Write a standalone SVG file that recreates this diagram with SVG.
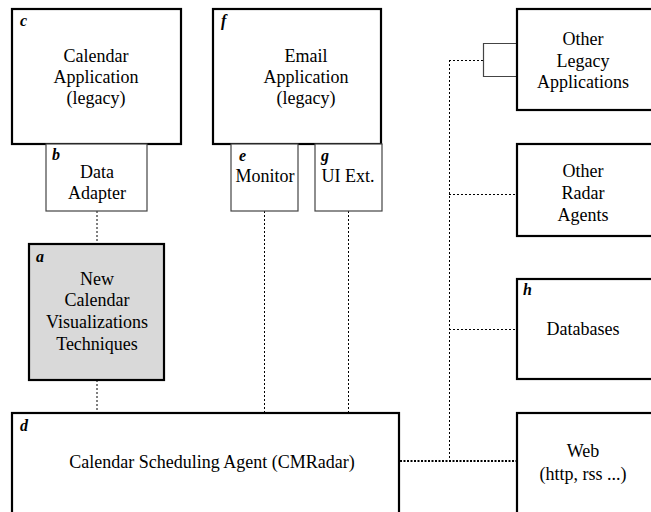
<svg xmlns="http://www.w3.org/2000/svg" width="651" height="512" viewBox="0 0 651 512">
<style>
.big{fill:#fff;stroke:#000;stroke-width:2.2}
.small{fill:#fff;stroke:#444;stroke-width:1.2}
.t{font-family:"Liberation Serif","Times New Roman",serif;font-size:18px;fill:#000;text-anchor:middle}
.l{font-family:"Liberation Serif","Times New Roman",serif;font-size:16px;font-weight:bold;font-style:italic;fill:#000}
.dot{stroke:#000;stroke-width:1;stroke-dasharray:2 2;fill:none}
.dotb{stroke:#000;stroke-width:2;stroke-dasharray:2 1.5;fill:none}
</style>
<rect width="651" height="512" fill="#fff"/>
<g id="connectors">
<line class="dot" x1="97" y1="211" x2="97" y2="244"/>
<line class="dot" x1="97" y1="380" x2="97" y2="413"/>
<line class="dot" x1="264.5" y1="211" x2="264.5" y2="413"/>
<line class="dot" x1="348.5" y1="211" x2="348.5" y2="413"/>
<line class="dot" x1="449.5" y1="60" x2="449.5" y2="461"/>
<line class="dot" x1="449" y1="60.5" x2="483" y2="60.5"/>
<line class="dot" x1="449" y1="194.5" x2="517" y2="194.5"/>
<line class="dot" x1="449" y1="329.5" x2="517" y2="329.5"/>
<line class="dotb" x1="400" y1="461" x2="517" y2="461"/>
<polyline points="517,43.5 483.5,43.5 483.5,76.5 517,76.5" fill="none" stroke="#444" stroke-width="1.2"/>
</g>
<g id="node-c">
<rect class="big" x="12" y="9" width="169" height="135"/>
<text class="l" x="20" y="26">c</text>
<text class="t" x="96" y="62">Calendar</text>
<text class="t" x="96" y="83">Application</text>
<text class="t" x="96" y="104">(legacy)</text>
</g>
<g id="node-b">
<rect class="small" x="46" y="144" width="101" height="67"/>
<text class="l" x="52" y="160">b</text>
<text class="t" x="97" y="178">Data</text>
<text class="t" x="97" y="199">Adapter</text>
</g>
<g id="node-f">
<rect class="big" x="213" y="9" width="168" height="135"/>
<text class="l" x="221" y="26">f</text>
<text class="t" x="306" y="62">Email</text>
<text class="t" x="306" y="83">Application</text>
<text class="t" x="306" y="104">(legacy)</text>
</g>
<g id="node-e">
<rect class="small" x="231" y="144" width="67" height="67"/>
<text class="l" x="239" y="161">e</text>
<text class="t" x="265" y="182">Monitor</text>
</g>
<g id="node-g">
<rect class="small" x="315" y="144" width="67" height="67"/>
<text class="l" x="321" y="161">g</text>
<text class="t" x="348" y="182">UI Ext.</text>
</g>
<g id="node-a">
<rect x="29" y="244" width="135" height="136" fill="#d9d9d9" stroke="#000" stroke-width="2.2"/>
<text class="l" x="36" y="262">a</text>
<text class="t" x="97" y="285">New</text>
<text class="t" x="97" y="306">Calendar</text>
<text class="t" x="97" y="328">Visualizations</text>
<text class="t" x="97" y="350">Techniques</text>
</g>
<g id="node-d">
<rect class="big" x="12" y="413" width="387" height="110"/>
<text class="l" x="20" y="431">d</text>
<text class="t" x="212" y="468">Calendar Scheduling Agent (CMRadar)</text>
</g>
<g id="node-legacy">
<rect class="big" x="517" y="9" width="145" height="101"/>
<text class="t" x="583" y="45">Other</text>
<text class="t" x="583" y="67">Legacy</text>
<text class="t" x="583" y="88">Applications</text>
</g>
<g id="node-radar">
<rect class="big" x="517" y="144" width="145" height="92"/>
<text class="t" x="583" y="177">Other</text>
<text class="t" x="583" y="199">Radar</text>
<text class="t" x="583" y="221">Agents</text>
</g>
<g id="node-h">
<rect class="big" x="517" y="279" width="145" height="100"/>
<text class="l" x="523" y="295">h</text>
<text class="t" x="583" y="335">Databases</text>
</g>
<g id="node-web">
<rect class="big" x="517" y="413" width="145" height="110"/>
<text class="t" x="583" y="457">Web</text>
<text class="t" x="583" y="480">(http, rss ...)</text>
</g>
</svg>
